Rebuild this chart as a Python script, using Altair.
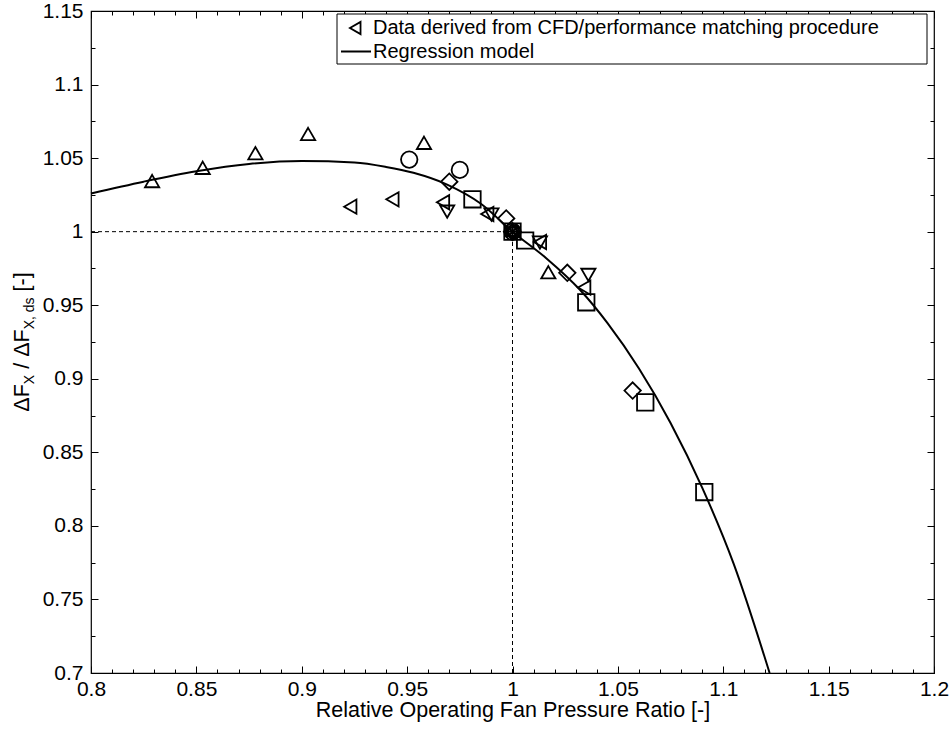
import altair as alt
import pandas as pd

# ---------------- data ----------------
x_major = [0.8, 0.85, 0.9, 0.95, 1.0, 1.05, 1.1, 1.15, 1.2]
y_major = [0.7, 0.75, 0.8, 0.85, 0.9, 0.95, 1.0, 1.05, 1.1, 1.15]
x_minor = [round(0.80 + 0.01 * i, 2) for i in range(41)]
y_minor = [round(0.700 + 0.025 * i, 3) for i in range(19)]

tri_up_x = [0.829, 0.853, 0.878, 0.903, 0.958, 1.0, 1.017]
tri_up_y = [1.033, 1.042, 1.052, 1.065, 1.059, 1.0, 0.971]
tri_left_x = [0.924, 0.944, 0.968, 0.989, 1.0, 1.014, 1.035]
tri_left_y = [1.017, 1.022, 1.020, 1.012, 1.0, 0.993, 0.962]
tri_down_x = [0.969, 0.990, 1.0, 1.013, 1.036]
tri_down_y = [1.015, 1.013, 1.0, 0.994, 0.972]
circle_x = [0.951, 0.975, 1.0]
circle_y = [1.049, 1.042, 1.0]
diamond_x = [0.970, 0.997, 1.0, 1.026, 1.057]
diamond_y = [1.034, 1.009, 1.0, 0.972, 0.892]
square_x = [0.981, 1.0, 1.006, 1.035, 1.063, 1.091]
square_y = [1.022, 1.0, 0.994, 0.952, 0.884, 0.823]
star_x = [1.0]
star_y = [1.0]

curve_x = [0.80, 0.825, 0.85, 0.875, 0.90, 0.925, 0.94, 0.953, 0.969, 0.985,
           1.0, 1.016, 1.032, 1.045, 1.06, 1.075, 1.09, 1.105, 1.122]
curve_y = [1.026, 1.034, 1.041, 1.046, 1.048, 1.047, 1.044, 1.040, 1.032, 1.019,
           1.0, 0.982, 0.9605, 0.938, 0.907, 0.870, 0.826, 0.774, 0.70]

ref_x = 1.0
ref_y = 1.0
x_min, x_max = 0.8, 1.2
y_min, y_max = 0.7, 1.15

legend_labels = ["Data derived from CFD/performance matching procedure", "Regression model"]
x_title = "Relative Operating Fan Pressure Ratio [-]"

# ---------------- layout constants ----------------
W, H = 843, 662
FONT = "Liberation Sans"
FS = 21       # tick labels
TFS = 21.5    # titles
LFS = 20      # legend

shape_paths = {
    "up": "M0,-1L0.866,0.5L-0.866,0.5Z",
    "down": "M0,1L0.866,-0.5L-0.866,-0.5Z",
    "left": "M-1,0L0.5,-0.866L0.5,0.866Z",
    "circle": "circle",
    "diamond": "diamond",
    "square": "square",
    "star": "M-1,0L1,0M0,-1L0,1M-0.7,-0.7L0.7,0.7M-0.7,0.7L0.7,-0.7",
}
shape_sizes = {"up": 270, "down": 270, "left": 270, "circle": 150,
               "diamond": 200, "square": 160, "star": 200}

series = [("up", tri_up_x, tri_up_y), ("left", tri_left_x, tri_left_y),
          ("down", tri_down_x, tri_down_y), ("circle", circle_x, circle_y),
          ("diamond", diamond_x, diamond_y), ("square", square_x, square_y),
          ("star", star_x, star_y)]
rows = []
for name, xs_, ys_ in series:
    for a, b in zip(xs_, ys_):
        rows.append({"x": a, "y": b, "s": name})
pts = pd.DataFrame(rows)
curve = pd.DataFrame({"x": curve_x, "y": curve_y})

xs = alt.Scale(domain=[x_min, x_max], nice=False, zero=False)
ys = alt.Scale(domain=[y_min, y_max], nice=False, zero=False)

main_x_axis = alt.Axis(values=x_major, format=".2~f", title=x_title, ticks=False, domain=False,
                       grid=False, labelFont=FONT, labelFontSize=FS, labelColor="black",
                       labelPadding=5, labelFlush=False, labelOverlap=False,
                       titleFont=FONT, titleFontSize=TFS, titleFontWeight="normal",
                       titleColor="black", titlePadding=0, orient="bottom")
main_y_axis = alt.Axis(values=y_major, format=".2~f", title=None, ticks=False, domain=False,
                       grid=False, labelFont=FONT, labelFontSize=FS, labelColor="black",
                       labelPadding=8, labelFlush=False, labelOverlap=False, orient="left")

line = alt.Chart(curve).mark_line(color="black", strokeWidth=2, interpolate="monotone").encode(
    x=alt.X("x:Q", scale=xs, axis=main_x_axis),
    y=alt.Y("y:Q", scale=ys, axis=main_y_axis),
)

points = alt.Chart(pts).mark_point(filled=False, color="black", strokeWidth=1.8, opacity=1).encode(
    x=alt.X("x:Q", scale=xs, axis=None),
    y=alt.Y("y:Q", scale=ys, axis=None),
    shape=alt.Shape("s:N", scale=alt.Scale(domain=list(shape_paths.keys()),
                                           range=list(shape_paths.values())), legend=None),
    size=alt.Size("s:N", scale=alt.Scale(domain=list(shape_sizes.keys()),
                                         range=list(shape_sizes.values())), legend=None),
)

ref_df = pd.DataFrame({"x0": [x_min], "x1": [ref_x], "y0": [y_min], "y1": [ref_y]})
h_rule = alt.Chart(ref_df).mark_rule(color="black", strokeWidth=1, strokeDash=[4, 3]).encode(
    x=alt.X("x0:Q", scale=xs, axis=None), x2="x1:Q",
    y=alt.Y("y1:Q", scale=ys, axis=None))
v_rule = alt.Chart(ref_df).mark_rule(color="black", strokeWidth=1, strokeDash=[4, 3]).encode(
    x=alt.X("x1:Q", scale=xs, axis=None),
    y=alt.Y("y0:Q", scale=ys, axis=None), y2="y1:Q")

helper = pd.DataFrame({"x": [ref_x], "y": [ref_y]})


def tick_layer(xorient, yorient, xvals, yvals, size):
    xa = alt.Axis(orient=xorient, offset=-H, values=xvals, labels=False, domain=False, grid=False,
                  ticks=True, tickSize=size, tickColor="black", tickWidth=1, title=None)
    ya = alt.Axis(orient=yorient, offset=-W, values=yvals, labels=False, domain=False, grid=False,
                  ticks=True, tickSize=size, tickColor="black", tickWidth=1, title=None)
    return alt.Chart(helper).mark_point(opacity=0).encode(
        x=alt.X("x:Q", scale=xs, axis=xa), y=alt.Y("y:Q", scale=ys, axis=ya))


t1 = tick_layer("top", "right", x_major, y_major, 7)
t2 = tick_layer("bottom", "left", x_major, y_major, 7)
t3 = tick_layer("top", "right", x_minor, y_minor, 4)
t4 = tick_layer("bottom", "left", x_minor, y_minor, 4)

# ---------------- legend (manual) ----------------
one = pd.DataFrame({"a": [0]})
LX0, LX1, LY0, LY1 = 246, 836, 3, 53
ROW1, ROW2 = 17, 40.5
leg_box = alt.Chart(one).mark_rect(fill="white", stroke="black", strokeWidth=1).encode(
    x=alt.value(LX0), x2=alt.value(LX1), y=alt.value(LY0), y2=alt.value(LY1))
leg_sym = alt.Chart(one).mark_point(filled=False, color="black", strokeWidth=1.8, opacity=1,
                                    shape=shape_paths["left"], size=200).encode(
    x=alt.value(266), y=alt.value(ROW1))
leg_line = alt.Chart(one).mark_rule(color="black", strokeWidth=2).encode(
    x=alt.value(250), x2=alt.value(280), y=alt.value(ROW2), y2=alt.value(ROW2))
leg_t1 = alt.Chart(one).mark_text(text=legend_labels[0], font=FONT, fontSize=LFS, color="black",
                                  align="left", baseline="middle").encode(
    x=alt.value(282), y=alt.value(ROW1))
leg_t2 = alt.Chart(one).mark_text(text=legend_labels[1], font=FONT, fontSize=LFS, color="black",
                                  align="left", baseline="middle").encode(
    x=alt.value(282), y=alt.value(ROW2))

# ---------------- y title with subscripts ----------------
cw = {"Δ": 0.668, "F": 0.611, "X": 0.667, " ": 0.278, "/": 0.278, ",": 0.278,
      "d": 0.556, "s": 0.5, "[": 0.278, "-": 0.333, "]": 0.278}


def tw(s, fs):
    return sum(cw.get(c, 0.55) for c in s) * fs


SUB = 14
segs = [("ΔF", TFS, 0, 0), ("X", SUB, 5, 0), ("/", TFS, 0, cw[" "] * TFS),
        ("ΔF", TFS, 0, cw[" "] * TFS), ("X, ds", SUB, 5, 0), ("[-]", TFS, 0, cw[" "] * TFS)]
total = 0
placed = []
for txt, fs, shift, gap in segs:
    total += gap
    placed.append((txt, fs, shift, total))
    total += tw(txt, fs)
base_x = -62
center_y = H / 2
start_y = center_y + total / 2
ytitle_layers = []
for txt, fs, shift, off in placed:
    ytitle_layers.append(
        alt.Chart(one).mark_text(text=txt, font=FONT, fontSize=fs, color="black", angle=270,
                                 align="left", baseline="alphabetic").encode(
            x=alt.value(base_x + shift), y=alt.value(start_y - off)))

chart = alt.layer(
    line, t1, t2, t3, t4, h_rule, v_rule, points, leg_box, leg_sym, leg_line, leg_t1, leg_t2,
    *ytitle_layers
).resolve_axis(x="independent", y="independent").properties(
    width=W, height=H, autosize=alt.AutoSizeParams(type="none"),
    padding={"left": 91, "top": 11, "right": 18, "bottom": 56},
    background="white",
).configure_view(stroke="black", strokeWidth=1.2)

chart.save("out.html", embed_options={"renderer": "svg", "actions": False})
